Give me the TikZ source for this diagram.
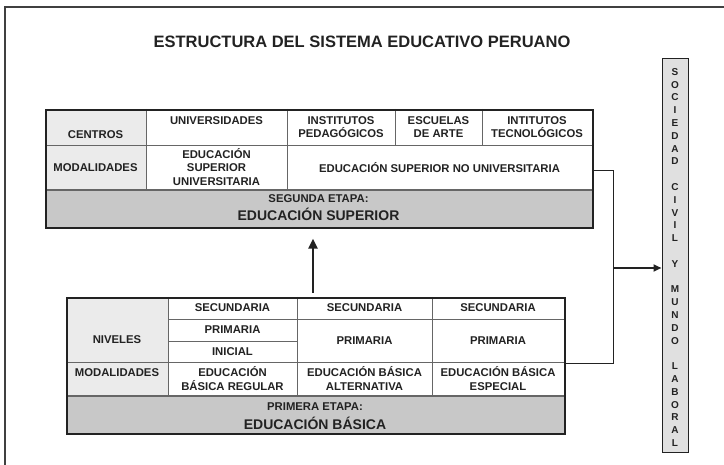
\documentclass[tikz,border=0pt]{standalone}
\usepackage{fontspec}
\setmainfont{Liberation Sans}
\usetikzlibrary{arrows.meta,calc}
\definecolor{ink}{HTML}{222222}
\definecolor{labfill}{HTML}{EBEBEB}
\definecolor{bandfill}{HTML}{C8C8C8}
\definecolor{sidefill}{HTML}{E0E0E0}
\definecolor{gridline}{HTML}{666666}
\begin{document}
\begin{tikzpicture}[x=1pt,y=-1pt,
  cell/.style={font=\fontsize{11.3}{13.2}\selectfont\bfseries, align=center, inner sep=0pt, text=ink},
  bandsmall/.style={font=\fontsize{11.3}{13}\selectfont\bfseries, inner sep=0pt, text=ink},
  bandbig/.style={font=\fontsize{14}{16}\selectfont\bfseries, inner sep=0pt, text=ink},
  tablebox/.style={draw=ink, line width=1.6pt, anchor=north west, inner sep=0pt},
  grid/.style={draw=gridline, line width=0.7pt},
  bandline/.style={draw=gridline, line width=1.3pt},
  link/.style={draw=ink, line width=0.9pt},
  bigarrow/.style={draw=ink, line width=2.6pt, -{Triangle[width=9pt,length=10pt]}},
  sidearrow/.style={draw=ink, line width=2.2pt, -{Triangle[width=7pt,length=8pt]}}
]
\useasboundingbox (0,0) rectangle (724,465);
% frame
\draw[draw=black!75, line width=1.4pt] (5,465) -- (5,7) -- (724,7);
% title
\node[font=\fontsize{16.5}{19}\selectfont\bfseries, text=ink, inner sep=0pt] (title) at (362,42) {ESTRUCTURA DEL SISTEMA EDUCATIVO PERUANO};

% ---------- top table ----------
\fill[labfill] (45,109) rectangle (146,190);
\fill[bandfill] (45,190) rectangle (592,227);
\draw[grid] (146,109) -- (146,190);
\draw[grid] (287,109) -- (287,190);
\draw[grid] (395,109) -- (395,145);
\draw[grid] (482,109) -- (482,145);
\draw[grid] (45,145) -- (592,145);
\draw[bandline] (45,190) -- (592,190);
\node[tablebox, minimum width=547pt, minimum height=118pt] (sup) at (45,109) {};

\node[cell] (centros) at (95.5,135) {CENTROS};
\node[cell] (univ) at (216.5,121) {UNIVERSIDADES};
\node[cell] (ipeda) at (341,127) {INSTITUTOS\\PEDAGÓGICOS};
\node[cell] (esca) at (438.5,127) {ESCUELAS\\DE ARTE};
\node[cell] (itec) at (537,127) {INTITUTOS\\TECNOLÓGICOS};
\node[cell] (modsup) at (95.5,168) {MODALIDADES};
\node[cell] (esu) at (216.5,167) {EDUCACIÓN\\SUPERIOR\\UNIVERSITARIA};
\node[cell] (esnu) at (439.5,168) {EDUCACIÓN SUPERIOR NO UNIVERSITARIA};
\node[bandsmall] (seg) at (318.5,199) {SEGUNDA ETAPA:};
\node[bandbig] (esup) at (318.5,214) {EDUCACIÓN SUPERIOR};

% ---------- bottom table ----------
\fill[labfill] (66,297) rectangle (168,396);
\fill[bandfill] (66,396) rectangle (564,433);
\draw[grid] (168,297) -- (168,396);
\draw[grid] (297,297) -- (297,396);
\draw[grid] (432,297) -- (432,396);
\draw[grid] (168,319) -- (564,319);
\draw[grid] (168,341) -- (297,341);
\draw[grid] (66,362) -- (564,362);
\draw[bandline] (66,396) -- (564,396);
\node[tablebox, minimum width=498pt, minimum height=136pt] (bas) at (66,297) {};

\node[cell] (sec1) at (232.5,308) {SECUNDARIA};
\node[cell] (sec2) at (364.5,308) {SECUNDARIA};
\node[cell] (sec3) at (498,308) {SECUNDARIA};
\node[cell] (pri1) at (232.5,330) {PRIMARIA};
\node[cell] (ini) at (232.5,351.5) {INICIAL};
\node[cell] (pri2) at (364.5,341) {PRIMARIA};
\node[cell] (pri3) at (498,341) {PRIMARIA};
\node[cell] (niv) at (117,340) {NIVELES};
\node[cell] (modbas) at (117,373) {MODALIDADES};
\node[cell] (ebr) at (232.5,378.5) {EDUCACIÓN\\BÁSICA REGULAR};
\node[cell] (eba) at (364.5,378.5) {EDUCACIÓN BÁSICA\\ALTERNATIVA};
\node[cell] (ebe) at (498,378.5) {EDUCACIÓN BÁSICA\\ESPECIAL};
\node[bandsmall] (prim) at (315,407) {PRIMERA ETAPA:};
\node[bandbig] (ebas) at (315,423) {EDUCACIÓN BÁSICA};

% ---------- side box ----------
\node[draw=ink, fill=sidefill, line width=1pt, minimum width=26pt, minimum height=394pt, inner sep=0pt] (soc) at (675,256) {};
\node[font=\fontsize{10}{12.8}\selectfont\bfseries, text=ink, align=center, inner sep=0pt] (soctext) at (675,257.5)
 {S\\O\\C\\I\\E\\D\\A\\D\\\mbox{}\\C\\I\\V\\I\\L\\\mbox{}\\Y\\\mbox{}\\M\\U\\N\\D\\O\\\mbox{}\\L\\A\\B\\O\\R\\A\\L};

% ---------- connectors ----------
\coordinate (ax) at (313,0);
\coordinate (j1) at (613,170);
\coordinate (j2) at (613,363);
\coordinate (j3) at (613,268);
\draw[bigarrow, shorten <=4pt, shorten >=10pt] (bas.north -| ax) -- (sup.south -| ax);
\draw[link] (sup.east |- j1) -- (j1) -- (j2) -- (bas.east |- j2);
\draw[sidearrow] (j3) -- (soc.west |- j3);
\end{tikzpicture}
\end{document}
